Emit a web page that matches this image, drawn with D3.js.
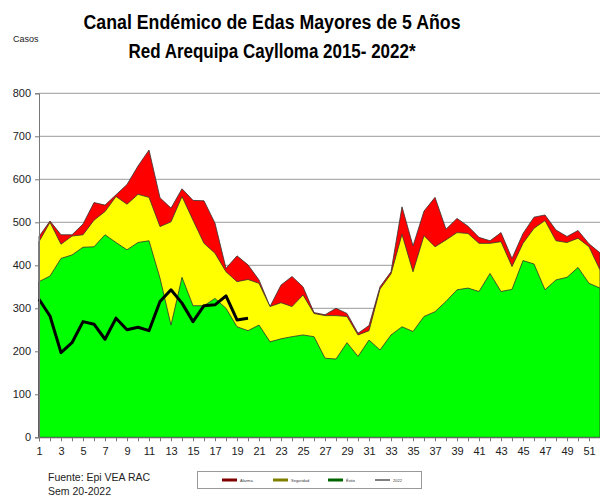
<!DOCTYPE html>
<html>
<head>
<meta charset="utf-8">
<script src="https://cdn.jsdelivr.net/npm/d3@7"></script>
<style>
  body { margin: 0; background: #fff; }
  svg { display: block; font-family: "Liberation Sans", Arial, sans-serif; }
</style>
</head>
<body>
<div id="chart"></div>
<script>
// semanas epidemiologicas
const weeks = d3.range(1, 53);
const xTicks = d3.range(1, 52, 2);
const yTicks = [0, 100, 200, 300, 400, 500, 600, 700, 800];

// canal endemico (limites)
const alarma = [467, 503, 471, 471, 496, 546, 540, 564, 588, 631, 668, 557, 533, 578, 551, 550, 498, 393, 422, 401,
  366, 304, 354, 374, 350, 290, 285, 300, 288, 242, 260, 350, 385, 536, 445, 526, 558, 484, 509, 491,
  465, 457, 476, 416, 474, 512, 517, 482, 467, 481, 450, 429];
const seguridad = [455, 500, 449, 468, 471, 505, 525, 560, 542, 565, 558, 490, 501, 560, 505, 451, 428, 385, 362, 367,
  358, 304, 313, 304, 331, 288, 283, 283, 281, 238, 248, 345, 380, 472, 385, 469, 443, 459, 476, 474,
  451, 451, 455, 397, 451, 486, 504, 457, 453, 463, 443, 389];
const exito = [362, 375, 416, 424, 442, 443, 471, 453, 436, 453, 457, 370, 261, 372, 306, 306, 323, 300, 257, 248,
  261, 222, 229, 234, 238, 234, 184, 182, 220, 188, 226, 203, 238, 257, 246, 281, 292, 316, 343, 347,
  339, 381, 339, 344, 411, 403, 343, 366, 372, 395, 358, 347];
// casos 2022 hasta la semana 20
const casos2022 = [321, 282, 197, 220, 269, 263, 228, 277, 250, 256, 248, 316, 343, 312, 269, 306, 308, 329, 273, 277];

const legendItems = [
  { label: 'Alarma', color: '#800000', w: 3 },
  { label: 'Seguridad', color: '#808000', w: 3 },
  { label: 'Éxito', color: '#006400', w: 3 },
  { label: '2022', color: '#000', w: 1 }
];

const width = 600, height = 497;
const svg = d3.select('#chart').append('svg').attr('width', width).attr('height', height);

const x = d3.scaleLinear().domain([1, 52]).range([39, 600]);
const y = d3.scaleLinear().domain([0, 800]).range([437.3, 93.3]);

// grid
svg.append('g').selectAll('line').data(yTicks.filter(d => d > 0)).enter().append('line')
  .attr('x1', x(1)).attr('x2', width)
  .attr('y1', d => y(d)).attr('y2', d => y(d))
  .attr('stroke', '#9a9a9a').attr('stroke-width', 1);

function areaFor(vals) {
  return d3.area().x((d, i) => x(weeks[i])).y0(y(0)).y1(d => y(d))(vals);
}

const layers = [
  { vals: alarma, fill: '#ff0000' },
  { vals: seguridad, fill: '#ffff00' },
  { vals: exito, fill: '#00ff00' }
];
svg.append('g').selectAll('path').data(layers).enter().append('path')
  .attr('d', d => areaFor(d.vals))
  .attr('fill', d => d.fill)
  .attr('stroke', '#333').attr('stroke-width', 0.8).attr('stroke-linejoin', 'round');

// linea 2022
svg.append('path')
  .attr('d', d3.line().x((d, i) => x(weeks[i])).y(d => y(d))(casos2022))
  .attr('fill', 'none').attr('stroke', '#000').attr('stroke-width', 3).attr('stroke-linejoin', 'round');

// axes
const yAxis = svg.append('g').attr('transform', `translate(${x(1)},0)`)
  .call(d3.axisLeft(y).tickValues(yTicks).tickSize(4).tickPadding(4));
const xAxis = svg.append('g').attr('transform', `translate(0,${y(0)})`)
  .call(d3.axisBottom(x).tickValues(weeks).tickSize(4).tickPadding(6)
    .tickFormat(d => (d % 2 === 1 && d < 52) ? d : ''));
[yAxis, xAxis].forEach(g => {
  g.select('.domain').attr('stroke', '#777');
  g.selectAll('.tick line').attr('stroke', '#777');
  g.selectAll('text').attr('fill', '#222').style('font-size', '11px')
    .style('font-family', '"Liberation Sans", Arial, sans-serif');
});

// titles
svg.append('text').attr('x', 272).attr('y', 29).attr('text-anchor', 'middle')
  .attr('textLength', 377).attr('lengthAdjust', 'spacingAndGlyphs')
  .style('font-size', '20px').style('font-weight', 'bold')
  .text('Canal Endémico de Edas Mayores de 5 Años');
svg.append('text').attr('x', 272).attr('y', 58).attr('text-anchor', 'middle')
  .attr('textLength', 287).attr('lengthAdjust', 'spacingAndGlyphs')
  .style('font-size', '20px').style('font-weight', 'bold')
  .text('Red Arequipa Caylloma 2015- 2022*');
svg.append('text').attr('x', 13).attr('y', 42).style('font-size', '9px').attr('fill', '#222').text('Casos');

// fuente
svg.append('text').attr('x', 48).attr('y', 481).style('font-size', '10.5px').attr('fill', '#222').text('Fuente: Epi VEA RAC');
svg.append('text').attr('x', 48).attr('y', 495).style('font-size', '10.5px').attr('fill', '#222').text('Sem  20-2022');

// legend
const lg = svg.append('g');
lg.append('rect').attr('x', 197.5).attr('y', 471.5).attr('width', 224).attr('height', 17)
  .attr('fill', '#fff').attr('stroke', '#999');
const lx = [222, 273, 328, 375];
legendItems.forEach((d, i) => {
  lg.append('line').attr('x1', lx[i]).attr('x2', lx[i] + 15).attr('y1', 480).attr('y2', 480)
    .attr('stroke', d.color).attr('stroke-width', d.w);
  lg.append('text').attr('x', lx[i] + 18).attr('y', 481.5).style('font-size', '4px').attr('fill', '#333').text(d.label);
});
</script>
</body>
</html>
